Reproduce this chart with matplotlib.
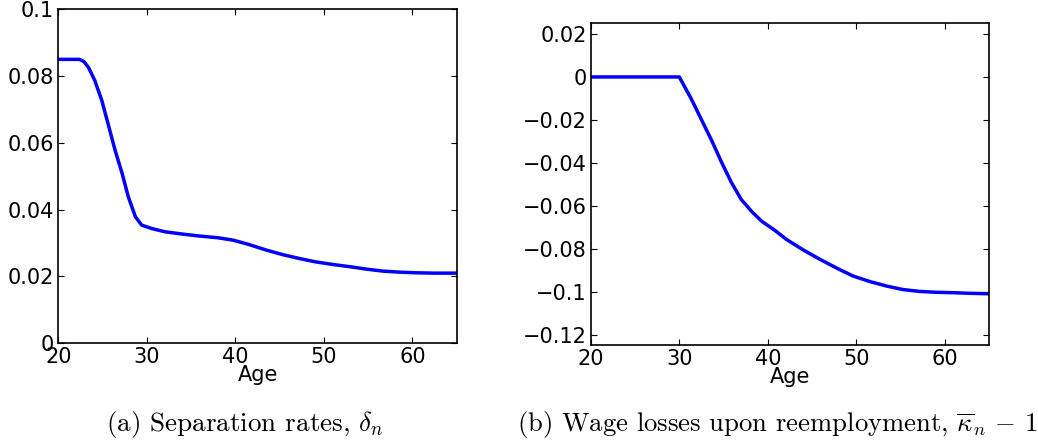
import matplotlib.pyplot as plt
import numpy as np

# separation rates
age_sep = [20, 22.4, 22.9, 23.4, 24.1, 24.9, 25.6, 26.4, 27.2, 27.9, 28.7,
           29.4, 30.5, 32.0, 34.0, 36.0, 38.0, 39.7, 41.5, 43.5, 45.4, 47.2,
           49.0, 51.0, 53.0, 54.8, 56.7, 58.5, 60.5, 62.5, 65]
sep_rate = [0.085, 0.085, 0.0843, 0.0826, 0.0788, 0.0728, 0.0659, 0.0579,
            0.0509, 0.0439, 0.0379, 0.0354, 0.0344, 0.0334, 0.0327, 0.0321,
            0.0316, 0.0309, 0.0296, 0.0279, 0.0265, 0.0254, 0.0244, 0.0236,
            0.0229, 0.0222, 0.0216, 0.0213, 0.0211, 0.0210, 0.0210]

# wage losses upon reemployment
age_wage = [20, 30.0, 31.4, 32.5, 33.7, 34.8, 35.9, 37.0, 38.2, 39.3, 40.8,
            42.1, 44.0, 45.9, 47.8, 49.6, 51.5, 53.4, 55.2, 57.1, 59.0, 60.9,
            63.0, 65]
wage_loss = [0.0, 0.0, -0.0106, -0.0199, -0.0300, -0.0400, -0.0493, -0.0571,
             -0.0628, -0.0672, -0.0715, -0.0757, -0.0806, -0.0850, -0.0891,
             -0.0927, -0.0953, -0.0974, -0.0990, -0.0999, -0.1003, -0.1005,
             -0.1008, -0.1010]

x_ticks = [20, 30, 40, 50, 60]
sep_yticks = [0, 0.02, 0.04, 0.06, 0.08, 0.1]
wage_yticks = [-0.12, -0.1, -0.08, -0.06, -0.04, -0.02, 0, 0.02]


def fmt(v):
    s = f"{v:g}"
    return s.replace("-", "\u2212")


plt.rcParams["font.family"] = ["DejaVu Sans"]
plt.rcParams["mathtext.fontset"] = "cm"

fig = plt.figure(figsize=(10.38, 4.46), dpi=100)
ax1 = fig.add_axes([0.0562, 0.2303, 0.3838, 0.7489])
ax2 = fig.add_axes([0.5691, 0.2258, 0.3840, 0.7220])

panels = [
    (ax1, age_sep, sep_rate, sep_yticks, (0, 0.1)),
    (ax2, age_wage, wage_loss, wage_yticks, (-0.125, 0.025)),
]
for ax, x, y, yt, ylim in panels:
    ax.plot(x, y, color="#0000ff", lw=2.5, solid_joinstyle="round")
    ax.set_xlim(20, 65)
    ax.set_ylim(*ylim)
    ax.set_xticks(x_ticks)
    ax.set_xticklabels([str(t) for t in x_ticks])
    ax.set_yticks(yt)
    ax.set_yticklabels([fmt(t) for t in yt])
    ax.tick_params(direction="in", top=True, right=True, length=4,
                   labelsize=15, pad=3)
    ax.set_xlabel("Age", fontsize=15, labelpad=-2)
    for sp in ax.spines.values():
        sp.set_linewidth(1.2)

fig.text(245 / 1038, 1 - 425 / 446, r"(a) Separation rates, $\delta_n$",
         ha="center", va="center", fontsize=19.5, family="cmr10")
fig.text(777 / 1038, 1 - 425 / 446,
         r"(b) Wage losses upon reemployment, $\overline{\kappa}_n\,-\,1$",
         ha="center", va="center", fontsize=19.2, family="cmr10")

fig.savefig("out.png", dpi=100)
